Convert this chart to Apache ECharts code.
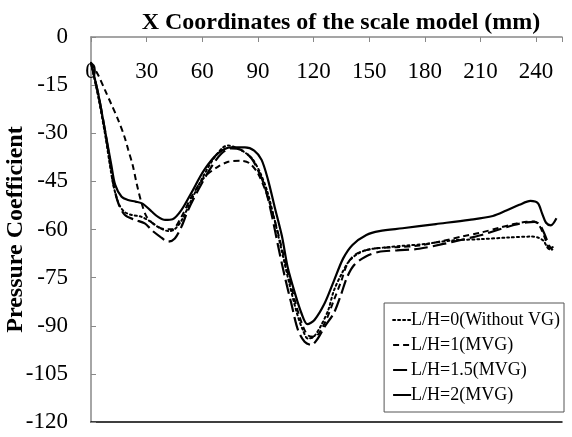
<!DOCTYPE html>
<html>
<head>
<meta charset="utf-8">
<script src="https://cdn.jsdelivr.net/npm/echarts@6/dist/echarts.min.js"></script>
<style>
  html, body { margin: 0; padding: 0; background: #fff; }
  #chart { width: 572px; height: 437px; }
</style>
</head>
<body>
<div id="chart"></div>
<script>
// Pressure coefficient along the x coordinate of the scale model (mm)
const seriesNames = ['L/H=0(Without VG)', 'L/H=1(MVG)', 'L/H=1.5(MVG)', 'L/H=2(MVG)'];

// L/H=0, no vortex generator
const x0 = [0, 4, 7.5, 12, 15, 18, 22, 27, 32, 37, 42, 45, 49, 54, 60, 66, 71, 74, 78, 83, 87, 91, 95, 99, 103, 107, 111, 114, 117, 120, 124, 128, 131, 135, 139, 144, 150, 160, 170, 180, 195, 210, 225, 238, 241, 244, 247, 249];
const y0 = [-8, -19, -30, -46, -52, -54.5, -55.5, -56, -57.5, -59.5, -60.5, -60, -57, -51, -44, -38, -34.5, -33.8, -34.5, -36, -38, -42, -48, -57, -67, -77, -86, -91, -94, -93.5, -90, -85, -79, -74, -70, -67.5, -66.2, -65.5, -65, -64.5, -63.4, -63, -62.5, -62.2, -62.5, -63.5, -66, -65.5];

// L/H=1
const x1 = [0, 4, 7.5, 11, 14.7, 18, 20, 22.5, 24.6, 27.3, 30, 34.5, 39.8, 43.8, 48.8, 54.2, 61.4, 68.6, 74, 81, 85.6, 90, 94.6, 99, 103.6, 108, 112.5, 116.7, 120.6, 126, 131, 135, 138, 142, 148, 155, 165, 177, 190, 200, 210, 220, 228, 235, 239, 242, 245, 247, 249];
const y1 = [-8, -12, -16.5, -21, -25.9, -31, -35, -40, -45.6, -51.8, -56, -58.6, -59.9, -59.9, -56, -49.8, -43.5, -40.4, -38.9, -38.6, -39.4, -42.5, -48.7, -57, -67.4, -77.8, -87.2, -92.9, -93.4, -89.2, -82, -76, -71, -68, -66.5, -65.8, -65.5, -65, -63.5, -62.2, -61, -59.5, -58.3, -57.6, -57.5, -59, -63, -66, -67];

// L/H=1.5
const x2 = [0, 4, 7.5, 10, 12, 14.7, 18.3, 23.7, 29, 32.7, 37.2, 41.6, 45.2, 48.8, 52.4, 57.8, 65, 70.4, 75.7, 81, 86.5, 90, 93.7, 97.3, 101, 104.5, 108, 111.6, 115.2, 118.8, 122.4, 126, 131, 135, 138, 142, 148, 155, 165, 177, 190, 200, 210, 220, 228, 235, 239, 242, 245, 247, 249];
const y2 = [-8, -18, -29, -38, -45.6, -51.8, -55.5, -57, -58.1, -60.2, -62.2, -63.8, -62.8, -59.1, -53.9, -47.7, -40.4, -36.3, -34.7, -35.2, -37.8, -41.5, -46.6, -55, -65.4, -74.7, -83, -91.3, -95, -96, -93.9, -90.3, -86, -80, -75, -71, -68.5, -67, -66.5, -66, -64.5, -63.2, -61.8, -60, -58.6, -57.8, -57.6, -58.5, -62, -65, -66.5];

// L/H=2
const x3 = [0, 4, 7.5, 11, 13, 16.5, 20, 24, 28, 32.7, 36, 40, 44, 48.8, 54, 61, 68.5, 75.5, 83, 88, 92, 95.5, 99, 103, 106, 110, 113.5, 116.7, 120.5, 126, 131, 136, 141, 148.5, 155.5, 168, 186, 204, 216.7, 224, 231, 237, 241, 243.2, 245.4, 248, 251];
const y3 = [-8, -18, -29, -40, -46, -49.8, -50.8, -51.3, -52, -54.4, -56, -57, -56.8, -53.9, -48.7, -41.5, -36.3, -34.4, -34.4, -35.4, -38.3, -44.6, -52.9, -62.2, -71.6, -79.9, -86.1, -89.5, -88.2, -83, -76, -69, -64.8, -61.7, -60.5, -59.6, -58.3, -57, -55.8, -54.1, -52.3, -51.1, -51.8, -54.9, -57.9, -58.7, -56.5];

const xTicks = [0, 30, 60, 90, 120, 150, 180, 210, 240];
const yTicks = [0, -15, -30, -45, -60, -75, -90, -105, -120];

const FONT = '"Liberation Serif", "Times New Roman", serif';
const pairs = (xs, ys) => xs.map((x, i) => [x, ys[i]]);
const lineStyles = [
  { type: [2, 3], width: 2, cap: 'round' },
  { type: [6, 4], width: 2 },
  { type: [14, 5], width: 2.2 },
  { type: 'solid', width: 2.2 }
];
const xsAll = [x0, x1, x2, x3];
const ysAll = [y0, y1, y2, y3];

const chart = echarts.init(document.getElementById('chart'), null, { renderer: 'canvas' });
chart.setOption({
  animation: false,
  backgroundColor: '#fff',
  title: {
    text: 'X Coordinates of the scale model (mm)',
    left: 336, top: 6, textAlign: 'center',
    textStyle: { fontFamily: FONT, fontSize: 24, fontWeight: 'bold', color: '#000' }
  },
  grid: { left: 91, top: 37, right: 10, bottom: 15, containLabel: false, outerBoundsMode: 'none' },
  legend: {
    orient: 'vertical', right: 8, bottom: 25,
    data: seriesNames,
    itemWidth: 18, itemHeight: 12, itemGap: 7,
    padding: [8, 4, 8, 8],
    backgroundColor: '#fff', borderColor: '#555', borderWidth: 1,
    itemStyle: { opacity: 0 },
    textStyle: { fontFamily: FONT, fontSize: 18, color: '#000', padding: [0, 0, 0, -5] }
  },
  xAxis: [{
    type: 'value', position: 'top',
    min: 0, max: 254, interval: 30,
    axisLine: { show: true, lineStyle: { color: '#888', width: 1.5 } },
    axisTick: { show: true, inside: true, length: 5, lineStyle: { color: '#888' } },
    axisLabel: {
      inside: true, margin: 23,
      fontFamily: FONT, fontSize: 23, color: '#000',
      formatter: v => (xTicks.indexOf(v) >= 0 ? String(v) : '')
    },
    splitLine: { show: false }
  }, {
    type: 'value', position: 'bottom',
    min: 0, max: 254,
    axisLine: { show: true, onZero: false, lineStyle: { color: '#000', width: 1.5 } },
    axisTick: { show: false }, axisLabel: { show: false }, splitLine: { show: false }
  }],
  yAxis: {
    type: 'value', min: -120, max: 0, interval: 15,
    name: 'Pressure Coefficient', nameLocation: 'middle', nameGap: 63,
    nameMoveOverlap: false,
    nameTextStyle: { fontFamily: FONT, fontSize: 24, fontWeight: 'bold', color: '#000' },
    axisLine: { show: true, onZero: false, lineStyle: { color: '#888', width: 1.5 } },
    axisTick: { show: true, inside: true, length: 5, lineStyle: { color: '#888' } },
    axisLabel: {
      margin: 23, fontFamily: FONT, fontSize: 23, color: '#000',
      formatter: v => (yTicks.indexOf(v) >= 0 ? String(v) : '')
    },
    splitLine: { show: false }
  },
  series: seriesNames.map((name, i) => ({
    name, type: 'line', xAxisIndex: 0,
    data: pairs(xsAll[i], ysAll[i]),
    smooth: 0.3, symbol: 'none',
    lineStyle: Object.assign({ color: '#000' }, lineStyles[i]),
    itemStyle: { color: '#000' }
  }))
});
</script>
</body>
</html>
